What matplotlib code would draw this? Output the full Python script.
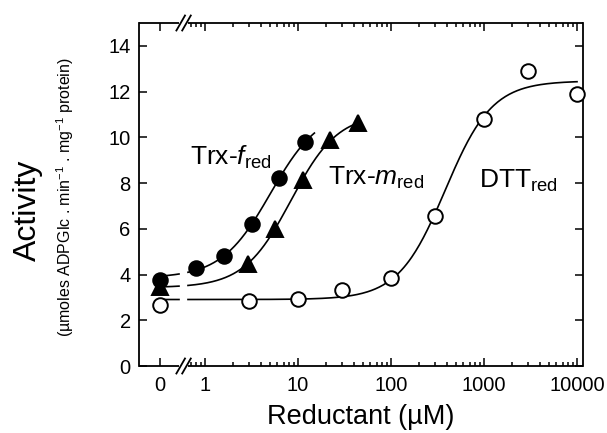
import numpy as np
import matplotlib
matplotlib.use("Agg")
import matplotlib.pyplot as plt
from matplotlib.ticker import FixedLocator, NullFormatter

plt.rcParams['font.family'] = ['Liberation Sans', 'DejaVu Sans']
plt.rcParams['mathtext.fontset'] = 'custom'
plt.rcParams['mathtext.rm'] = 'Liberation Sans'
plt.rcParams['mathtext.it'] = 'Liberation Sans:italic'
plt.rcParams['mathtext.bf'] = 'Liberation Sans:bold'

# ---------------- data ----------------
trx_f_conc = [0, 0.8, 1.6, 3.2, 6.2, 12.0]
trx_f_act = [3.78, 4.29, 4.80, 6.19, 8.20, 9.79]

trx_m_conc = [0, 2.9, 5.6, 11.2, 22.0, 44.0]
trx_m_act = [3.45, 4.45, 6.00, 8.12, 9.87, 10.62]

dtt_conc = [0, 3, 10, 30, 100, 300, 1000, 3000, 10000]
dtt_act = [2.65, 2.85, 2.95, 3.32, 3.87, 6.57, 10.80, 12.90, 11.90]

x_tick_values = [0, 1, 10, 100, 1000, 10000]
x_tick_labels = ["0", "1", "10", "100", "1000", "10000"]
y_tick_values = [0, 2, 4, 6, 8, 10, 12, 14]

# ---------------- layout constants ----------------
ZERO_POS = 0.328          # where "0" sits on the log axis
XLIM = (0.195, 11600)
YLIM = (0, 15)
BREAK_LO, BREAK_HI = 0.525, 0.656   # gap of the broken axis (data units)


def pos(x):
    x = np.asarray(x, float)
    return np.where(x == 0, ZERO_POS, x)


def hill_fit(x, y, e_max):
    x = np.asarray(x, float)
    y = np.asarray(y, float)
    best = None
    for e in np.logspace(-1, np.log10(e_max), 160):
        for n in np.linspace(0.6, 3.0, 61):
            xn = x ** n
            f = xn / (xn + e ** n)
            A = np.column_stack([np.ones_like(f), f])
            coef = np.linalg.lstsq(A, y, rcond=None)[0]
            sse = np.sum((A @ coef - y) ** 2)
            if best is None or sse < best[0]:
                best = (sse, coef[0], coef[1], e, n)
    _, b, r, e, n = best
    return lambda xx: b + r * xx ** n / (xx ** n + e ** n)


def curve_x(x_end):
    left = np.geomspace(ZERO_POS, BREAK_LO, 20)
    right = np.geomspace(BREAK_HI, x_end, 300)
    return np.concatenate([left, [np.nan], right])


fig = plt.figure(figsize=(6.07, 4.33), dpi=100)
L, R, T, B = 139, 583, 23, 366
ax = fig.add_axes([L / 607, 1 - B / 433, (R - L) / 607, (B - T) / 433])
ax.set_xscale('log')
ax.set_xlim(*XLIM)
ax.set_ylim(*YLIM)

# fitted curves
series = [
    (trx_f_conc, trx_f_act, 15.0, dict(marker='o', mfc='black', ms=10.5)),
    (trx_m_conc, trx_m_act, 44.0, dict(marker='^', mfc='black', ms=11)),
    (dtt_conc, dtt_act, 10000.0, dict(marker='o', mfc='white', ms=10.5)),
]
for xs, ys, xend, mk in series:
    fit = hill_fit(xs, ys, e_max=3 * max(xs))
    cx = curve_x(xend)
    ax.plot(cx, fit(cx), color='black', lw=1.2, zorder=2)
    ax.plot(pos(xs), ys, ls='none', mec='black', mew=1.4, zorder=3,
            clip_on=False, **mk)

# ticks
ax.xaxis.set_major_locator(FixedLocator(pos(x_tick_values)))
ax.set_xticklabels(x_tick_labels)
minor = [0.7, 0.8, 0.9]
for k in range(0, 4):
    minor += [m * 10 ** k for m in range(2, 10)]
ax.xaxis.set_minor_locator(FixedLocator(minor))
ax.xaxis.set_minor_formatter(NullFormatter())
ax.set_yticks(y_tick_values)
ax.tick_params(which='both', direction='in', top=True, right=True,
               labelsize=14.5, width=1.1)
ax.tick_params(which='major', length=6)
ax.tick_params(which='minor', length=3)
ax.tick_params(axis='x', pad=7)
ax.tick_params(axis='y', pad=6)

# broken spines
for s in ['left', 'right']:
    ax.spines[s].set_linewidth(1.3)
ax.spines['top'].set_visible(False)
ax.spines['bottom'].set_visible(False)
W, H = R - L, B - T
b1 = (179 - L) / W
b2 = (188 - L) / W
for yy in (0, 1):
    ax.plot([0, b1], [yy, yy], transform=ax.transAxes, color='black',
            lw=1.3, clip_on=False, solid_capstyle='butt')
    ax.plot([b2, 1], [yy, yy], transform=ax.transAxes, color='black',
            lw=1.3, clip_on=False, solid_capstyle='butt')
    for cx_px in (180.7, 186.5):
        c = (cx_px - L) / W
        dx, dy = 4.3 / W, 7.5 / H
        ax.plot([c - dx, c + dx], [yy - dy, yy + dy], transform=ax.transAxes,
                color='black', lw=1.3, clip_on=False)

# labels
ax.set_xlabel('Reductant (µM)', fontsize=19.5, labelpad=6.5)
fig.text(28 / 607, 1 - 210 / 433, 'Activity', rotation=90, fontsize=23,
         ha='center', va='center')
fig.text(65 / 607, 1 - 197 / 433,
         r'(µmoles ADPGlc . min$^{-1}$ . mg$^{-1}$ protein)', rotation=90,
         fontsize=11.5, ha='center', va='center')

# curve annotations
ax.text((190 - L) / W, (B - 165) / H, r'Trx-$\mathit{f}_{\mathrm{red}}$',
        transform=ax.transAxes, fontsize=19, ha='left', va='baseline')
ax.text((328 - L) / W, (B - 185) / H, r'Trx-$\mathit{m}_{\mathrm{red}}$',
        transform=ax.transAxes, fontsize=19, ha='left', va='baseline')
ax.text((479 - L) / W, (B - 187.5) / H, r'DTT$_{\mathrm{red}}$',
        transform=ax.transAxes, fontsize=19, ha='left', va='baseline')

fig.savefig('out.png', dpi=100)
